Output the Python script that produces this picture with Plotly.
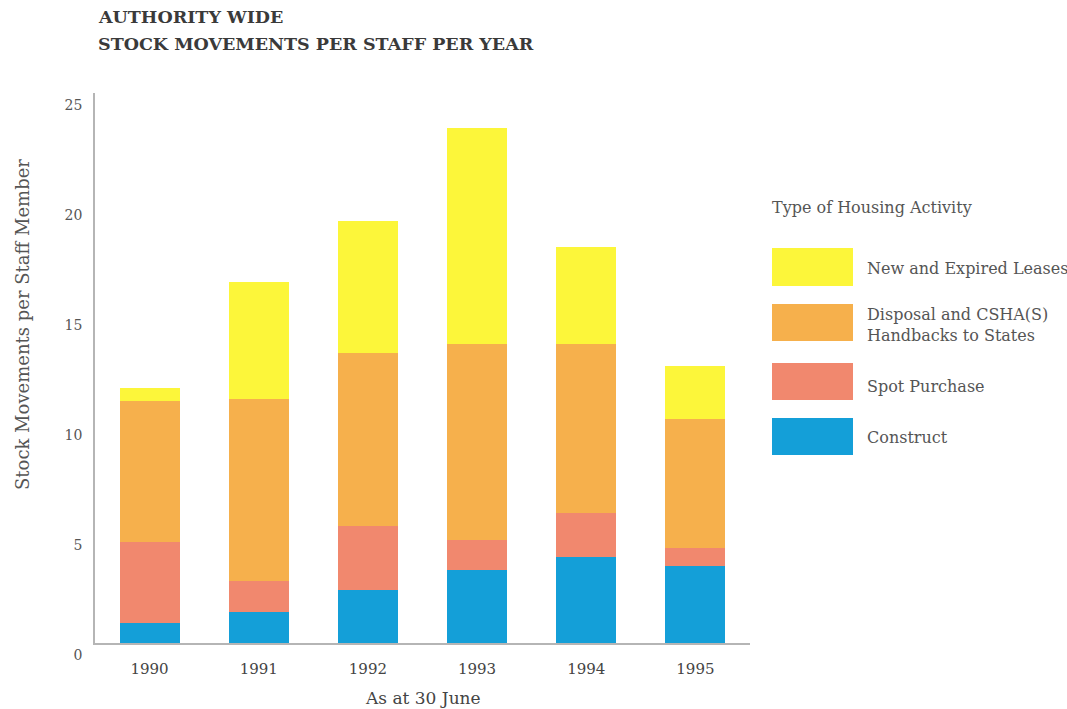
import plotly.graph_objects as go

# ---- data ----
years = ["1990", "1991", "1992", "1993", "1994", "1995"]
construct = [0.9, 1.4, 2.4, 3.3, 3.9, 3.5]
spot_purchase = [3.7, 1.4, 2.9, 1.4, 2.0, 0.8]
disposal = [6.4, 8.3, 7.9, 8.9, 7.7, 5.9]
leases = [0.6, 5.3, 6.0, 9.8, 4.4, 2.4]

series_names = ["Construct", "Spot Purchase",
                "Disposal and CSHA(S)<br>Handbacks to States",
                "New and Expired Leases"]
series_values = [construct, spot_purchase, disposal, leases]
series_colors = ["#149FD8", "#F1886E", "#F6B04C", "#FCF63A"]

y_ticks = [0, 5, 10, 15, 20, 25]

FONT = "DejaVu Serif"

# ---- layout geometry (pixels) ----
W, H = 1067, 709
L, R, T, B = 95, 317, 93, 66
PW, PH = W - L - R, H - T - B


def px_x(x):
    return (x - L) / PW


def px_y(y):
    return (H - B - y) / PH


fig = go.Figure()
for name, vals, col in zip(series_names, series_values, series_colors):
    fig.add_trace(go.Bar(x=years, y=vals, name=name.replace("<br>", " "),
                         marker=dict(color=col, line=dict(width=0)),
                         showlegend=False))

fig.update_layout(
    width=W, height=H,
    margin=dict(l=L, r=R, t=T, b=B, pad=0, autoexpand=False),
    barmode="stack", bargap=0.45,
    plot_bgcolor="white", paper_bgcolor="white",
    font=dict(family=FONT, color="#555555"),
    showlegend=False,
)
fig.update_xaxes(
    type="category", range=[-0.5, 5.5], automargin=False,
    showline=True, linecolor="#b5b5b5", linewidth=1.5,
    showgrid=False, zeroline=False, ticks="",
    tickfont=dict(family=FONT, size=15, color="#444444"),
    ticklabelstandoff=11,
)
fig.update_yaxes(
    range=[0, 25], tickvals=y_ticks, ticktext=[str(v) for v in y_ticks],
    automargin=False,
    showline=True, linecolor="#b5b5b5", linewidth=1.5,
    showgrid=False, zeroline=False, ticks="",
    tickfont=dict(family=FONT, size=14, color="#555555"),
    ticklabelstandoff=8, ticklabelshift=12,
)

annotations = []
# title
annotations.append(dict(text="<b>AUTHORITY WIDE</b>", xref="paper", yref="paper",
                        x=px_x(96), y=px_y(17), xanchor="left", yanchor="middle",
                        showarrow=False, font=dict(family=FONT, size=17.5, color="#3a3a3a")))
annotations.append(dict(text="<b>STOCK MOVEMENTS PER STAFF PER YEAR</b>", xref="paper", yref="paper",
                        x=px_x(96), y=px_y(44), xanchor="left", yanchor="middle",
                        showarrow=False, font=dict(family=FONT, size=17.5, color="#3a3a3a")))
# x axis title
annotations.append(dict(text="As at 30 June", xref="paper", yref="paper",
                        x=0.5, y=px_y(698), xanchor="center", yanchor="middle",
                        showarrow=False, font=dict(family=FONT, size=17, color="#444444")))
# y axis title
annotations.append(dict(text="Stock Movements per Staff Member", xref="paper", yref="paper",
                        x=px_x(22), y=px_y(325), xanchor="center", yanchor="middle",
                        textangle=-90, showarrow=False,
                        font=dict(family=FONT, size=18, color="#555555")))
# legend title
annotations.append(dict(text="Type of Housing Activity", xref="paper", yref="paper",
                        x=px_x(770), y=px_y(207), xanchor="left", yanchor="middle",
                        showarrow=False, font=dict(family=FONT, size=16, color="#555555")))

# legend swatches (top to bottom: leases, disposal, spot, construct)
swatch_rows = [(248, 286), (304, 341), (363, 400), (418, 455)]
label_centres = [268, 325, 386, 438]
shapes = []
for (y0, y1), yc, idx in zip(swatch_rows, label_centres, [3, 2, 1, 0]):
    shapes.append(dict(type="rect", xref="paper", yref="paper",
                       x0=px_x(772), x1=px_x(853), y0=px_y(y1), y1=px_y(y0),
                       fillcolor=series_colors[idx], line=dict(width=0), layer="above"))
    annotations.append(dict(text=series_names[idx], xref="paper", yref="paper",
                            x=px_x(865), y=px_y(yc), xanchor="left", yanchor="middle",
                            align="left", showarrow=False,
                            font=dict(family=FONT, size=16, color="#555555")))

fig.update_layout(annotations=annotations, shapes=shapes)

fig.write_html("out.html")
